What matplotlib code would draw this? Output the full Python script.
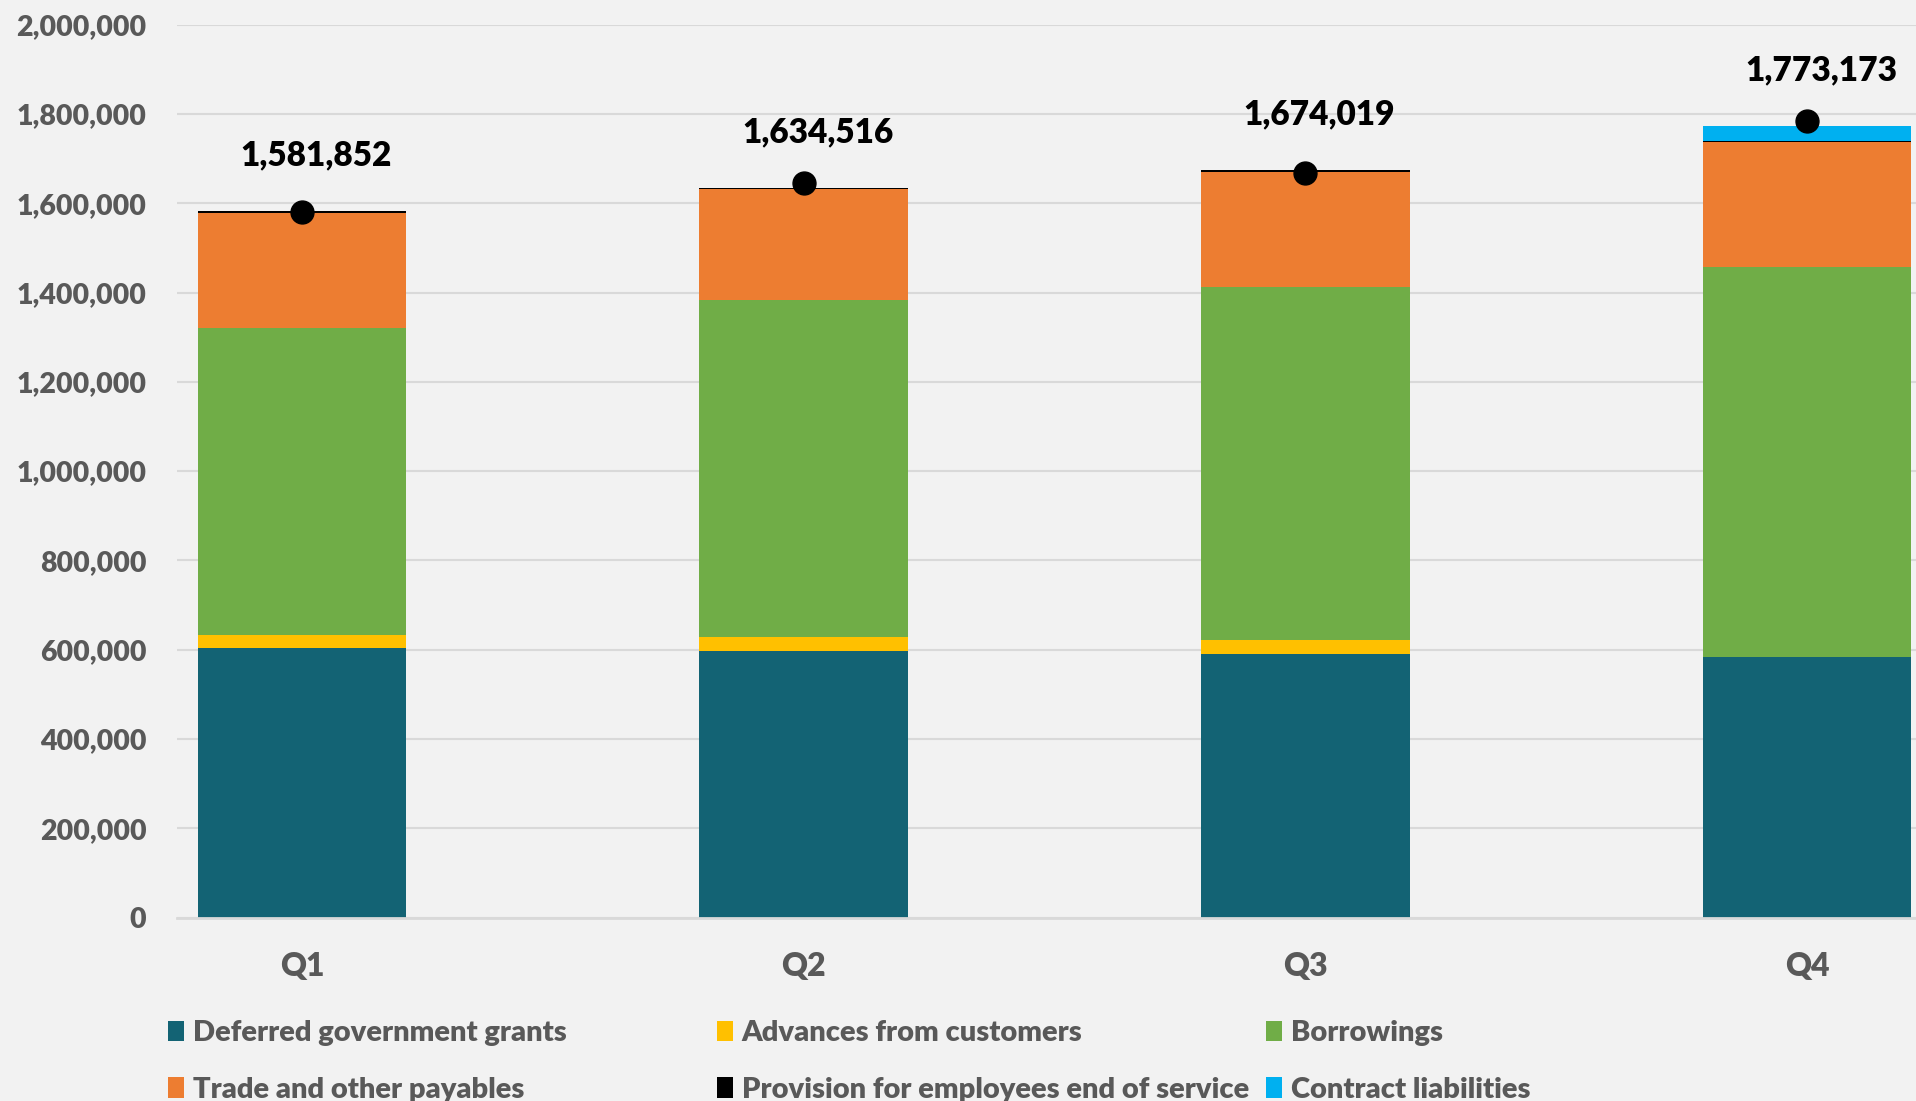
import matplotlib
matplotlib.use("Agg")
import matplotlib.pyplot as plt
import numpy as np
from matplotlib.patches import Patch
from matplotlib.ticker import FuncFormatter

categories = ["Q1", "Q2", "Q3", "Q4"]
series_names = ["Deferred government grants", "Advances from customers", "Borrowings",
                "Trade and other payables", "Provision for employees end of service",
                "Contract liabilities"]
deferred = [604300, 596200, 589500, 582700]
advances = [28400, 32000, 31300, 0]
borrowings = [688200, 755500, 790600, 874900]
trade = [257450, 247816, 259619, 278573]
provision = [3502, 3000, 3000, 3000]
contract = [0, 0, 0, 34000]
totals = [1581852, 1634516, 1674019, 1773173]
marker_values = [1580700, 1644400, 1666700, 1785200]
yticks = [0, 200000, 400000, 600000, 800000, 1000000, 1200000, 1400000, 1600000, 1800000, 2000000]

colors = ["#136374", "#FFC000", "#70AD47", "#ED7D31", "#000000", "#00B0F0"]
bg = "#F2F2F2"
gray = "#595959"
FONT = ["Lato", "DejaVu Sans"]
W = 'heavy'
plt.rcParams['font.family'] = FONT

fig = plt.figure(figsize=(19.16, 11.01), dpi=100, facecolor=bg)
ax = fig.add_axes([177/1916, 183.5/1101, 1 - 177/1916, (917.5-24.7)/1101])
ax.set_facecolor(bg)

x = np.arange(len(categories))
width = 0.416
bottom = np.zeros(len(categories))
data = [deferred, advances, borrowings, trade, provision, contract]
for vals, c in zip(data, colors):
    ax.bar(x, vals, width, bottom=bottom, color=c, zorder=3, linewidth=0)
    bottom += np.array(vals)

ax.plot(x, marker_values, 'o', color='black', markersize=16.5, zorder=5)
for xi, t in zip(x, totals):
    ax.annotate(f"{t:,}", (xi, t), xytext=(10, 40), textcoords='offset points',
                ha='center', va='center', fontsize=24, fontweight=W, color='black', zorder=6)

ax.set_xlim(-0.249, 3.217)
ax.set_ylim(0, 2000000)
ax.set_yticks(yticks)
ax.yaxis.set_major_formatter(FuncFormatter(lambda v, p: f"{int(v):,}"))
ax.set_xticks(x)
ax.set_xticklabels(categories)
ax.grid(axis='y', color='#D9D9D9', linewidth=1.5, zorder=0)
for s in ['top', 'right', 'left']:
    ax.spines[s].set_visible(False)
ax.spines['bottom'].set_color('#D9D9D9')
ax.spines['bottom'].set_linewidth(2)
ax.spines['bottom'].set_zorder(4)
ax.tick_params(axis='y', length=0, pad=22, labelsize=20.5, labelcolor=gray)
ax.tick_params(axis='x', length=0, pad=25, labelsize=23, labelcolor=gray)
for lab in ax.get_yticklabels() + ax.get_xticklabels():
    lab.set_fontweight(W)

handles = [Patch(facecolor=c, edgecolor='none') for c in colors]
cols = [(0, 3), (1, 4), (2, 5)]
xs = [168, 717, 1266]
for (i, j), xp in zip(cols, xs):
    leg = fig.legend([handles[i], handles[j]], [series_names[i], series_names[j]],
                     loc='upper left', bbox_to_anchor=(xp/1916, 1 - 1020/1101),
                     frameon=False, ncol=1, fontsize=21, handlelength=0.55,
                     handleheight=0.7, handletextpad=0.3, labelspacing=1.05,
                     borderaxespad=0, borderpad=0)
    for t in leg.get_texts():
        t.set_color(gray)
        t.set_fontweight(W)

fig.savefig("out.png", dpi=100, facecolor=bg)
